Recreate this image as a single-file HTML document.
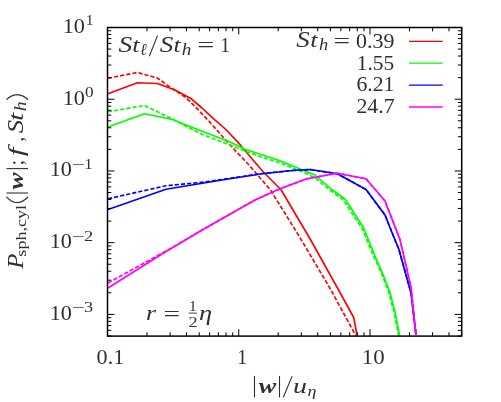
<!DOCTYPE html>
<html><head><meta charset="utf-8"><title>plot</title>
<style>html,body{margin:0;padding:0;background:#fff;}body{width:501px;height:402px;position:relative;overflow:hidden;font-family:"Liberation Serif",serif;}</style>
</head><body>
<svg width="501" height="402" viewBox="0 0 501 402" style="position:absolute;left:0;top:0">
<defs><clipPath id="c"><rect x="107.5" y="27.5" width="354.2" height="308.6"/></clipPath></defs>
<g clip-path="url(#c)" fill="none" stroke-width="1.65" stroke-linejoin="round">
<polyline points="108,93.75 137.4,82.75 157.4,83.5 175,90 190.8,98.4 202,108 213.1,118.3 225.9,129.5 238.7,143.1 242.4,147.5 262.4,171 281.2,190 310,238.75 338.6,290 353.7,317.5 357,335" stroke="#ff0000"/>
<polyline points="108,78.25 137.4,72.5 157.4,78 172,88.5 186,97.6 197.2,108.8 210,122.3 222.7,136.7 229.1,143.9 249,165 270.5,190 299,236 331,290 355.7,335.6" stroke="#ff0000" stroke-dasharray="4.2 2"/>
<polyline points="108,127 144.4,113.75 172.4,119.5 189.2,126.3 210,134.3 230.7,142.3 245,149.25 280,160.75 305,171 315,175 332.4,190 345,199 363.5,227.5 375,256 382,272 389.7,291.5 395,312 399.6,335.5" stroke="#00ff00"/>
<polyline points="108,111.75 144.4,105.5 172.4,119 186,126.3 202,134.3 224.3,142.8 245,151 262,157.3 280,162.8 295,169 305,173 314.5,177.5 330.6,190.5 343.3,200 361.8,228 373.5,256 381,272 388.5,291.5 394,312 398.6,335.5" stroke="#00ff00" stroke-dasharray="4.2 2"/>
<polyline points="108,209.5 166,189.25 225,179.5 262.4,173.75 292.3,170.5 310,169.5 337.4,173.75 366,189.5 385,215 395,240 398.8,249 411,293 416,335" stroke="#0000ff"/>
<polyline points="108,198.75 166,185.75 205,182 225,179 262.4,173.5 292.3,170.5 310,169.5 337.4,173.75 366,189.5 385,215 395,240 398.8,249 411,293 416,335" stroke="#0000ff" stroke-dasharray="4.2 2"/>
<polyline points="108,288 162.4,253.75 200,231.25 225,217 255,200 280,188.75 307,178.75 337.4,173.25 366,178.75 385,201 400,239.6 411,287.4 416,335" stroke="#ff00ff"/>
<polyline points="108,283 175,246 200,231.25 225,217 255,200 280,188.75 307,178.75 337.4,173.25 366,178.75 385,201 400,239.6 411,287.4 416,335" stroke="#ff00ff" stroke-dasharray="4.2 2"/>
</g>
<path d="M107.50 336.1 v-7 M107.50 27.5 v7 M147.01 336.1 v-3.8 M147.01 27.5 v3.8 M170.12 336.1 v-3.8 M170.12 27.5 v3.8 M186.51 336.1 v-3.8 M186.51 27.5 v3.8 M199.23 336.1 v-3.8 M199.23 27.5 v3.8 M209.62 336.1 v-3.8 M209.62 27.5 v3.8 M218.41 336.1 v-3.8 M218.41 27.5 v3.8 M226.02 336.1 v-3.8 M226.02 27.5 v3.8 M232.73 336.1 v-3.8 M232.73 27.5 v3.8 M238.74 336.1 v-7 M238.74 27.5 v7 M278.24 336.1 v-3.8 M278.24 27.5 v3.8 M301.35 336.1 v-3.8 M301.35 27.5 v3.8 M317.75 336.1 v-3.8 M317.75 27.5 v3.8 M330.46 336.1 v-3.8 M330.46 27.5 v3.8 M340.86 336.1 v-3.8 M340.86 27.5 v3.8 M349.64 336.1 v-3.8 M349.64 27.5 v3.8 M357.25 336.1 v-3.8 M357.25 27.5 v3.8 M363.97 336.1 v-3.8 M363.97 27.5 v3.8 M369.97 336.1 v-7 M369.97 27.5 v7 M409.48 336.1 v-3.8 M409.48 27.5 v3.8 M432.59 336.1 v-3.8 M432.59 27.5 v3.8 M448.98 336.1 v-3.8 M448.98 27.5 v3.8 M461.70 336.1 v-3.8 M461.70 27.5 v3.8 M107.5 335.99 h3.8 M461.7 335.99 h-3.8 M107.5 330.31 h3.8 M461.7 330.31 h-3.8 M107.5 325.51 h3.8 M461.7 325.51 h-3.8 M107.5 321.35 h3.8 M461.7 321.35 h-3.8 M107.5 317.68 h3.8 M461.7 317.68 h-3.8 M107.5 314.40 h7 M461.7 314.40 h-7 M107.5 292.81 h3.8 M461.7 292.81 h-3.8 M107.5 280.18 h3.8 M461.7 280.18 h-3.8 M107.5 271.22 h3.8 M461.7 271.22 h-3.8 M107.5 264.27 h3.8 M461.7 264.27 h-3.8 M107.5 258.59 h3.8 M461.7 258.59 h-3.8 M107.5 253.79 h3.8 M461.7 253.79 h-3.8 M107.5 249.63 h3.8 M461.7 249.63 h-3.8 M107.5 245.96 h3.8 M461.7 245.96 h-3.8 M107.5 242.67 h7 M461.7 242.67 h-7 M107.5 221.08 h3.8 M461.7 221.08 h-3.8 M107.5 208.45 h3.8 M461.7 208.45 h-3.8 M107.5 199.49 h3.8 M461.7 199.49 h-3.8 M107.5 192.54 h3.8 M461.7 192.54 h-3.8 M107.5 186.86 h3.8 M461.7 186.86 h-3.8 M107.5 182.06 h3.8 M461.7 182.06 h-3.8 M107.5 177.90 h3.8 M461.7 177.90 h-3.8 M107.5 174.23 h3.8 M461.7 174.23 h-3.8 M107.5 170.95 h7 M461.7 170.95 h-7 M107.5 149.36 h3.8 M461.7 149.36 h-3.8 M107.5 136.73 h3.8 M461.7 136.73 h-3.8 M107.5 127.77 h3.8 M461.7 127.77 h-3.8 M107.5 120.82 h3.8 M461.7 120.82 h-3.8 M107.5 115.14 h3.8 M461.7 115.14 h-3.8 M107.5 110.34 h3.8 M461.7 110.34 h-3.8 M107.5 106.18 h3.8 M461.7 106.18 h-3.8 M107.5 102.51 h3.8 M461.7 102.51 h-3.8 M107.5 99.22 h7 M461.7 99.22 h-7 M107.5 77.63 h3.8 M461.7 77.63 h-3.8 M107.5 65.00 h3.8 M461.7 65.00 h-3.8 M107.5 56.04 h3.8 M461.7 56.04 h-3.8 M107.5 49.09 h3.8 M461.7 49.09 h-3.8 M107.5 43.41 h3.8 M461.7 43.41 h-3.8 M107.5 38.61 h3.8 M461.7 38.61 h-3.8 M107.5 34.45 h3.8 M461.7 34.45 h-3.8 M107.5 30.78 h3.8 M461.7 30.78 h-3.8 M107.5 27.50 h7 M461.7 27.50 h-7" stroke="#000" stroke-width="1" fill="none"/>
<rect x="107.5" y="27.5" width="354.2" height="308.6" fill="none" stroke="#000" stroke-width="1.5"/>
<path d="M409 41.3 H442.7" stroke="#ff0000" stroke-width="1.3"/>
<path d="M409 63.2 H442.7" stroke="#00ff00" stroke-width="1.3"/>
<path d="M409 85.1 H442.7" stroke="#0000ff" stroke-width="1.3"/>
<path d="M409 107 H442.7" stroke="#ff00ff" stroke-width="1.3"/>
<g font-family="Liberation Serif, serif" fill="#303030" style="opacity:0.999">
<text transform="translate(62.65 32.95) scale(1.042 1)" font-size="21.3">10</text>
<text transform="translate(85.66 25.35) scale(1.073 1)" font-size="14.5">1</text>
<text transform="translate(62.65 104.67) scale(1.042 1)" font-size="21.3">10</text>
<text transform="translate(85.11 97.08) scale(1.184 1)" font-size="14.5">0</text>
<text transform="translate(49.75 176.40) scale(1.042 1)" font-size="21.3">10</text>
<text transform="translate(71.55 168.80) scale(1.600 1)" font-size="14.5">−</text>
<text transform="translate(84.26 168.80) scale(1.151 1)" font-size="14.5">1</text>
<text transform="translate(49.75 248.12) scale(1.042 1)" font-size="21.3">10</text>
<text transform="translate(71.55 240.52) scale(1.600 1)" font-size="14.5">−</text>
<text transform="translate(84.10 240.52) scale(1.277 1)" font-size="14.5">2</text>
<text transform="translate(49.75 319.85) scale(1.042 1)" font-size="21.3">10</text>
<text transform="translate(71.55 312.25) scale(1.600 1)" font-size="14.5">−</text>
<text transform="translate(84.06 312.25) scale(1.260 1)" font-size="14.5">3</text>
<text transform="translate(96.59 363.60) scale(1.041 1)" font-size="21.3">0.1</text>
<text transform="translate(237.25 363.60) scale(0.933 1)" font-size="21.3">1</text>
<text transform="translate(361.74 363.60) scale(1.074 1)" font-size="21.3">10</text>
<text transform="translate(356.00 47.80) scale(1.031 1)" font-size="21.3">0.39</text>
<text transform="translate(356.82 69.55) scale(1.005 1)" font-size="21.3">1.55</text>
<text transform="translate(356.41 91.30) scale(1.022 1)" font-size="21.3">6.21</text>
<text transform="translate(356.40 113.05) scale(1.024 1)" font-size="21.3">24.7</text>
<text transform="translate(296.30 47.40) scale(1.210 1)" font-size="22.3" font-style="italic">S</text>
<text transform="translate(310.27 47.40) scale(1.228 1)" font-size="21.3" font-style="italic">t</text>
<text transform="translate(318.90 50.40) scale(1.120 1)" font-size="16.5" font-style="italic">h</text>
<text transform="translate(333.62 48.10) scale(1.380 1)" font-size="21.3">=</text>
<text transform="translate(118.49 51.50) scale(1.229 1)" font-size="22.3" font-style="italic">S</text>
<text transform="translate(132.27 51.50) scale(1.228 1)" font-size="21.3" font-style="italic">t</text>
<text transform="translate(140.26 54.50) scale(0.906 1)" font-size="17" font-style="italic">ℓ</text>
<text transform="translate(159.80 51.50) scale(1.214 1)" font-size="22.3" font-style="italic">S</text>
<text transform="translate(173.61 51.50) scale(1.191 1)" font-size="21.3" font-style="italic">t</text>
<text transform="translate(181.67 54.50) scale(1.164 1)" font-size="16.5" font-style="italic">h</text>
<text transform="translate(197.29 52.20) scale(1.410 1)" font-size="21.3">=</text>
<text transform="translate(220.18 51.50) scale(0.920 1)" font-size="21.3">1</text>
<text transform="translate(145.95 320.00) scale(1.200 1)" font-size="21.3" font-style="italic">r</text>
<text transform="translate(163.62 320.70) scale(1.375 1)" font-size="21.3">=</text>
<text transform="translate(188.88 310.75) scale(1.054 1)" font-size="14.5">1</text>
<text transform="translate(188.41 327.00) scale(1.260 1)" font-size="14.5">2</text>
<text transform="translate(199.07 320.00) scale(1.239 1)" font-size="21.3" font-style="italic">η</text>
<text transform="translate(258.75 392.50) scale(1.228 1)" font-size="21.3" font-style="italic" font-weight="bold">w</text>
<text transform="translate(293.02 392.50) scale(1.314 1)" font-size="21.3" font-style="italic">u</text>
<text transform="translate(307.40 395.50) scale(1.200 1)" font-size="15" font-style="italic">η</text>
<g transform="translate(0 402) rotate(-90)">
<text transform="translate(133.14 22.60) scale(1.112 1)" font-size="22.3" font-style="italic">P</text>
<text transform="translate(145.35 25.60) scale(1.207 1)" font-size="15">sph,cyl</text>
<text transform="translate(212.50 22.60) scale(1.200 1)" font-size="21.3" font-style="italic" font-weight="bold">w</text>
<text transform="translate(236.62 22.60) scale(0.960 1)" font-size="21.3">;</text>
<text transform="translate(245.83 22.60) scale(1.465 1)" font-size="21.3" font-style="italic">f</text>
<text transform="translate(260.55 22.60) scale(0.862 1)" font-size="21.3">,</text>
<text transform="translate(268.71 22.60) scale(1.155 1)" font-size="23.2" font-style="italic">S</text>
<text transform="translate(281.10 22.60) scale(1.395 1)" font-size="21.3" font-style="italic">t</text>
<text transform="translate(290.65 25.60) scale(1.193 1)" font-size="16.5" font-style="italic">h</text>
<path d="M209 28 V6.5" stroke="#303030" stroke-width="1.1"/>
<path d="M233.4 28 V6.5" stroke="#303030" stroke-width="1.1"/>
<path d="M205.2 6.4 Q193.6 17.2 205.2 28" stroke="#303030" stroke-width="1.25" fill="none"/>
<path d="M302.4 6.4 Q312.2 17.2 302.4 28" stroke="#303030" stroke-width="1.25" fill="none"/>
</g>
</g>
<path d="M149.3 56.2 L157.5 35.6" stroke="#303030" stroke-width="1.1" fill="none"/>
<path d="M188.75 313.1 L197 313.1" stroke="#303030" stroke-width="0.9" fill="none"/>
<path d="M254.5 397.5 L254.5 375.9" stroke="#303030" stroke-width="1.1" fill="none"/>
<path d="M279.5 397.5 L279.5 375.9" stroke="#303030" stroke-width="1.1" fill="none"/>
<path d="M283.4 397.3 L292.1 376.1" stroke="#303030" stroke-width="1.1" fill="none"/>
</svg>
</body></html>
